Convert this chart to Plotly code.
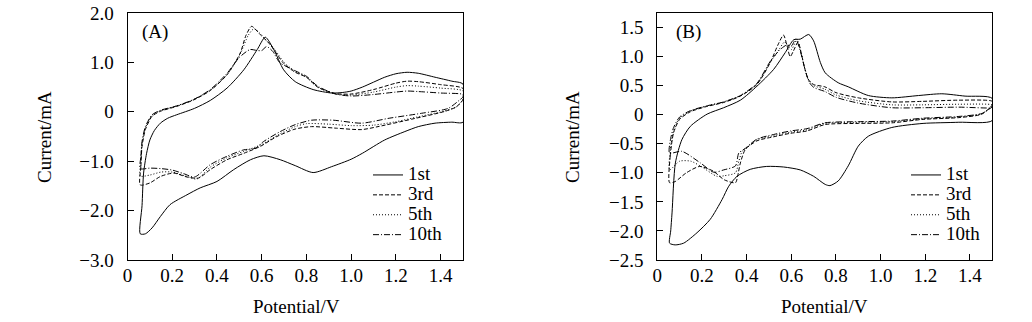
import plotly.graph_objects as go

# ---------------- data (Potential / V, Current / mA) ----------------
# Panel A
A1_V = [0.057, 0.065, 0.072, 0.085, 0.10, 0.12, 0.147, 0.18, 0.22, 0.30, 0.37, 0.445, 0.52, 0.58, 0.616, 0.654, 0.698, 0.75, 0.83, 0.913, 0.96, 1.0, 1.05, 1.1, 1.15, 1.2, 1.25, 1.3, 1.375, 1.45, 1.5,
        1.5, 1.45, 1.375, 1.3, 1.24, 1.15, 1.05, 1.0, 0.913, 0.83, 0.75, 0.683, 0.61, 0.55, 0.475, 0.40, 0.325, 0.266, 0.19, 0.147, 0.11, 0.08, 0.057]
A1_I = [-2.47, -1.9, -1.24, -0.85, -0.57, -0.38, -0.23, -0.13, -0.06, 0.07, 0.23, 0.48, 0.85, 1.26, 1.51, 1.26, 0.85, 0.61, 0.45, 0.38, 0.39, 0.42, 0.50, 0.60, 0.70, 0.77, 0.80, 0.78, 0.70, 0.62, 0.56,
        -0.21, -0.21, -0.23, -0.30, -0.40, -0.57, -0.84, -0.96, -1.11, -1.23, -1.09, -0.97, -0.89, -0.97, -1.17, -1.41, -1.54, -1.68, -1.88, -2.12, -2.35, -2.47, -2.47]

A3_V = [0.057, 0.06, 0.065, 0.08, 0.11, 0.147, 0.22, 0.296, 0.37, 0.445, 0.504, 0.53, 0.555, 0.594, 0.638, 0.698, 0.75, 0.80, 0.85, 0.93, 1.0, 1.1, 1.2, 1.25, 1.3, 1.4, 1.5,
        1.5, 1.47, 1.42, 1.27, 1.12, 1.047, 0.928, 0.823, 0.749, 0.668, 0.594, 0.52, 0.445, 0.37, 0.318, 0.266, 0.206, 0.147, 0.10, 0.057]
A3_I = [-1.48, -1.1, -0.70, -0.36, -0.09, 0.01, 0.11, 0.24, 0.43, 0.75, 1.19, 1.55, 1.73, 1.56, 1.36, 0.98, 0.80, 0.70, 0.50, 0.37, 0.36, 0.45, 0.58, 0.62, 0.61, 0.55, 0.47,
        0.25, 0.10, 0.01, -0.15, -0.30, -0.36, -0.33, -0.30, -0.35, -0.50, -0.70, -0.84, -0.97, -1.17, -1.34, -1.32, -1.24, -1.31, -1.44, -1.48]

A5_V = [0.057, 0.06, 0.065, 0.08, 0.11, 0.147, 0.22, 0.296, 0.37, 0.445, 0.504, 0.54, 0.565, 0.59, 0.62, 0.66, 0.70, 0.75, 0.80, 0.85, 0.93, 1.0, 1.1, 1.2, 1.25, 1.3, 1.4, 1.5,
        1.5, 1.47, 1.42, 1.3, 1.2, 1.1, 1.0, 0.9, 0.8, 0.75, 0.68, 0.6, 0.52, 0.445, 0.37, 0.31, 0.26, 0.20, 0.15, 0.10, 0.057]
A5_I = [-1.30, -1.0, -0.65, -0.33, -0.07, 0.02, 0.12, 0.25, 0.44, 0.75, 1.17, 1.55, 1.68, 1.60, 1.45, 1.25, 1.0, 0.82, 0.70, 0.50, 0.36, 0.34, 0.40, 0.50, 0.53, 0.52, 0.48, 0.42,
        0.25, 0.10, 0.02, -0.10, -0.20, -0.27, -0.28, -0.25, -0.24, -0.30, -0.45, -0.66, -0.80, -0.93, -1.12, -1.36, -1.30, -1.22, -1.22, -1.28, -1.30]

A10_V = [0.057, 0.06, 0.065, 0.08, 0.11, 0.147, 0.22, 0.296, 0.37, 0.445, 0.50, 0.548, 0.58, 0.60, 0.622, 0.65, 0.68, 0.75, 0.80, 0.85, 0.93, 1.0, 1.1, 1.2, 1.25, 1.3, 1.4, 1.5,
         1.5, 1.485, 1.434, 1.315, 1.17, 1.047, 0.92, 0.823, 0.75, 0.683, 0.609, 0.57, 0.52, 0.445, 0.37, 0.30, 0.25, 0.20, 0.15, 0.10, 0.057]
A10_I = [-1.15, -0.9, -0.60, -0.30, -0.06, 0.03, 0.12, 0.25, 0.45, 0.78, 1.10, 1.26, 1.24, 1.24, 1.32, 1.22, 1.0, 0.83, 0.72, 0.52, 0.36, 0.32, 0.35, 0.40, 0.42, 0.41, 0.38, 0.35,
         0.30, 0.24, 0.07, -0.03, -0.13, -0.23, -0.17, -0.17, -0.26, -0.40, -0.60, -0.74, -0.77, -0.90, -1.07, -1.32, -1.25, -1.18, -1.15, -1.14, -1.15]

# Panel B
B1_V = [0.055, 0.06, 0.066, 0.081, 0.11, 0.148, 0.223, 0.297, 0.372, 0.446, 0.521, 0.573, 0.611, 0.64, 0.678, 0.70, 0.73, 0.752, 0.81, 0.855, 0.945, 1.05, 1.17, 1.274, 1.378, 1.5,
        1.5, 1.35, 1.19, 1.05, 0.945, 0.90, 0.855, 0.81, 0.773, 0.752, 0.70, 0.64, 0.566, 0.49, 0.416, 0.357, 0.32, 0.29, 0.237, 0.178, 0.118, 0.08, 0.055]
B1_I = [-2.21, -2.0, -1.69, -0.83, -0.43, -0.20, 0.01, 0.12, 0.25, 0.49, 0.78, 1.07, 1.29, 1.30, 1.38, 1.27, 0.90, 0.72, 0.55, 0.48, 0.33, 0.29, 0.33, 0.36, 0.32, 0.28,
        -0.10, -0.13, -0.15, -0.22, -0.37, -0.54, -0.88, -1.14, -1.22, -1.20, -1.06, -0.95, -0.90, -0.89, -0.94, -1.06, -1.23, -1.46, -1.80, -2.03, -2.21, -2.24, -2.21]

B3_V = [0.055, 0.058, 0.073, 0.10, 0.148, 0.22, 0.297, 0.372, 0.446, 0.506, 0.54, 0.565, 0.58, 0.595, 0.61, 0.63, 0.645, 0.66, 0.676, 0.70, 0.75, 0.80, 0.90, 1.05, 1.19, 1.35, 1.5,
        1.5, 1.453, 1.35, 1.19, 1.05, 0.90, 0.75, 0.67, 0.596, 0.521, 0.446, 0.394, 0.372, 0.36, 0.35, 0.30, 0.25, 0.19, 0.13, 0.08, 0.055]
B3_I = [-1.17, -0.71, -0.31, -0.08, 0.05, 0.14, 0.21, 0.32, 0.52, 0.90, 1.20, 1.37, 1.20, 1.0, 1.10, 1.25, 1.05, 0.80, 0.61, 0.52, 0.48, 0.38, 0.29, 0.22, 0.23, 0.25, 0.23,
        0.17, 0.01, -0.05, -0.08, -0.14, -0.15, -0.17, -0.28, -0.32, -0.38, -0.45, -0.60, -0.83, -1.05, -1.17, -1.12, -0.97, -0.89, -1.0, -1.15, -1.17]

B5_V = [0.055, 0.058, 0.073, 0.10, 0.148, 0.22, 0.297, 0.372, 0.446, 0.506, 0.545, 0.57, 0.60, 0.625, 0.645, 0.66, 0.68, 0.70, 0.75, 0.80, 0.90, 1.05, 1.19, 1.35, 1.5,
        1.5, 1.453, 1.35, 1.19, 1.05, 0.90, 0.75, 0.67, 0.596, 0.521, 0.446, 0.394, 0.38, 0.365, 0.35, 0.30, 0.267, 0.20, 0.15, 0.10, 0.055]
B5_I = [-0.95, -0.62, -0.28, -0.06, 0.06, 0.15, 0.22, 0.33, 0.53, 0.90, 1.12, 1.25, 1.12, 1.30, 1.05, 0.80, 0.58, 0.50, 0.44, 0.34, 0.24, 0.17, 0.17, 0.18, 0.17,
        0.15, 0.02, -0.04, -0.07, -0.12, -0.13, -0.15, -0.26, -0.30, -0.36, -0.43, -0.58, -0.63, -0.80, -1.0, -1.05, -1.06, -0.90, -0.80, -0.80, -0.95]

B10_V = [0.055, 0.058, 0.073, 0.10, 0.148, 0.22, 0.297, 0.372, 0.446, 0.506, 0.55, 0.58, 0.60, 0.62, 0.64, 0.66, 0.68, 0.70, 0.75, 0.80, 0.90, 1.05, 1.19, 1.35, 1.5,
         1.5, 1.453, 1.35, 1.19, 1.05, 0.90, 0.75, 0.67, 0.596, 0.521, 0.446, 0.394, 0.365, 0.35, 0.297, 0.253, 0.193, 0.11, 0.055]
B10_I = [-0.66, -0.45, -0.22, -0.04, 0.07, 0.15, 0.22, 0.33, 0.54, 0.92, 1.12, 1.20, 1.18, 1.30, 1.10, 0.80, 0.56, 0.47, 0.40, 0.30, 0.20, 0.12, 0.12, 0.13, 0.12,
         0.13, 0.02, -0.03, -0.06, -0.11, -0.12, -0.14, -0.24, -0.28, -0.34, -0.42, -0.58, -0.66, -0.88, -0.95, -0.99, -0.83, -0.63, -0.66]

cycle_names = ["1st", "3rd", "5th", "10th"]
dash_styles = ["solid", "4px,2px", "1px,2px", "6px,2px,1px,2px"]

x_tickvals = [0, 0.2, 0.4, 0.6, 0.8, 1.0, 1.2, 1.4]
x_ticktext = ["0", "0.2", "0.4", "0.6", "0.8", "1.0", "1.2", "1.4"]
yA_tickvals = [2.0, 1.0, 0.0, -1.0, -2.0, -3.0]
yA_ticktext = ["2.0", "1.0", "0", "\u22121.0", "\u22122.0", "\u22123.0"]
yB_tickvals = [1.5, 1.0, 0.5, 0.0, -0.5, -1.0, -1.5, -2.0, -2.5]
yB_ticktext = ["1.5", "1.0", "0.5", "0", "\u22120.5", "\u22121.0", "\u22121.5", "\u22122.0", "\u22122.5"]

panelA = [(A1_V, A1_I), (A3_V, A3_I), (A5_V, A5_I), (A10_V, A10_I)]
panelB = [(B1_V, B1_I), (B3_V, B3_I), (B5_V, B5_I), (B10_V, B10_I)]

FONT = "Liberation Serif, Times New Roman, DejaVu Serif, serif"
FS = 19
W, H = 1032, 322


def legend_label(s):
    return '<span style="font-size:%dpx">%s</span>' % (FS, s)


fig = go.Figure()
for k, (vv, ii) in enumerate(panelA):
    fig.add_trace(go.Scatter(x=vv, y=ii, mode="lines", name=legend_label(cycle_names[k]),
                             line=dict(color="black", width=1, dash=dash_styles[k], shape="spline", smoothing=0.7),
                             xaxis="x", yaxis="y", legend="legend"))
for k, (vv, ii) in enumerate(panelB):
    fig.add_trace(go.Scatter(x=vv, y=ii, mode="lines", name=legend_label(cycle_names[k]),
                             line=dict(color="black", width=1, dash=dash_styles[k], shape="spline", smoothing=0.7),
                             xaxis="x2", yaxis="y2", legend="legend2"))

axis_common = dict(showline=True, linecolor="black", linewidth=1, mirror=True,
                   ticks="inside", ticklen=6, tickcolor="black", tickwidth=1,
                   showgrid=False, zeroline=False,
                   tickfont=dict(family=FONT, size=FS, color="black"))

yd = [(H - 260) / H, (H - 13) / H]
leg_common = dict(xanchor="left", yanchor="top", bgcolor="rgba(0,0,0,0)",
                  font=dict(family=FONT, size=13, color="black"), tracegroupgap=0, itemwidth=30)
fig.update_layout(
    width=W, height=H,
    margin=dict(l=0, r=0, t=0, b=0, autoexpand=False),
    paper_bgcolor="white", plot_bgcolor="white",
    font=dict(family=FONT, size=FS, color="black"),
    xaxis=dict(domain=[127.5 / W, 463 / W], range=[0, 1.5], tickvals=x_tickvals, ticktext=x_ticktext,
               anchor="y", ticklabelstandoff=-2, **axis_common),
    yaxis=dict(domain=yd, range=[-3, 2], tickvals=yA_tickvals, ticktext=yA_ticktext,
               anchor="x", ticklabelstandoff=9, **axis_common),
    xaxis2=dict(domain=[657.3 / W, 992.3 / W], range=[0, 1.5], tickvals=x_tickvals, ticktext=x_ticktext,
                anchor="y2", ticklabelstandoff=-2, **axis_common),
    yaxis2=dict(domain=yd, range=[-2.5, 1.75], tickvals=yB_tickvals, ticktext=yB_ticktext,
                anchor="x2", ticklabelstandoff=9, **axis_common),
    legend=dict(x=368 / W, y=(H - 160) / H, **leg_common),
    legend2=dict(x=906 / W, y=(H - 160) / H, **leg_common),
    showlegend=True,
)


def ann(text, x, y, angle=0):
    fig.add_annotation(text=text, x=x / W, y=(H - y) / H, xref="paper", yref="paper",
                       showarrow=False, textangle=angle, xanchor="center", yanchor="middle",
                       font=dict(family=FONT, size=FS, color="black"))


ann("(A)", 155, 31.7)
ann("(B)", 688.7, 31.7)
ann("Current/mA", 44, 137, -90)
ann("Current/mA", 572, 137, -90)
ann("Potential/V", 296.7, 306)
ann("Potential/V", 824, 306)

fig.write_html("out.html")
